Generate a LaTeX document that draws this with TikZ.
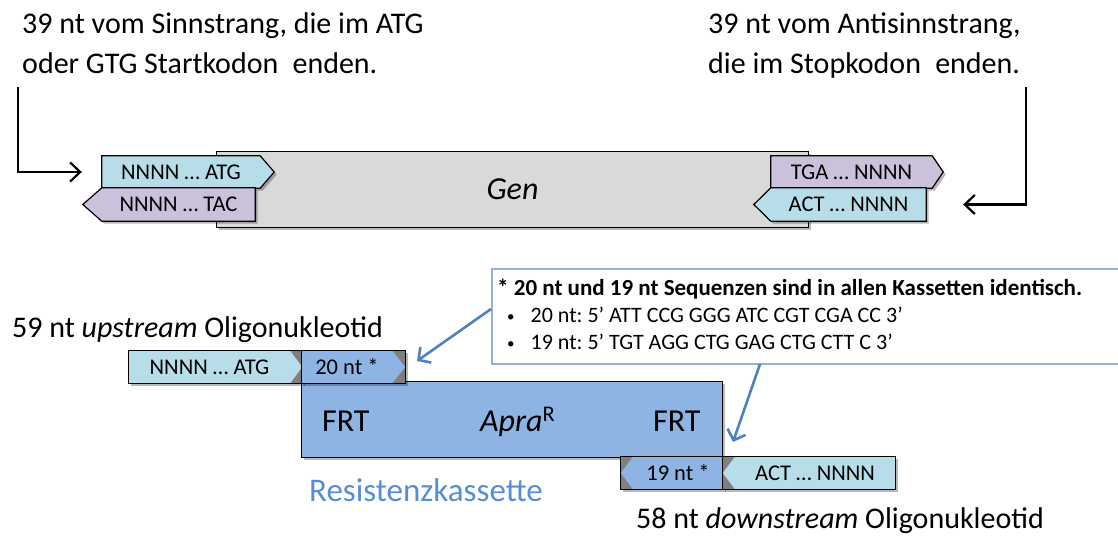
\documentclass[tikz,border=0pt]{standalone}
\usepackage{fontspec}
\setmainfont{Carlito}
\usetikzlibrary{arrows.meta,shadows}
\definecolor{lblue}{HTML}{B7DEE8}
\definecolor{lpurple}{HTML}{CCC1DA}
\definecolor{gengray}{HTML}{D9D9D9}
\definecolor{cblue}{HTML}{8EB4E3}
\definecolor{cgray}{HTML}{7F7F7F}
\definecolor{tblue}{HTML}{558ED5}
\definecolor{ablue}{HTML}{4F81BD}
\definecolor{iborder}{HTML}{95B3D7}
\pgfdeclarelayer{bg}
\pgfsetlayers{bg,main}
\frenchspacing
\newcommand{\pentR}[3]{\path[#3] (#1.north west) -- (#1.north east) -- ([xshift=#2]#1.east) -- (#1.south east) -- (#1.south west) -- cycle;}
\newcommand{\pentL}[3]{\path[#3] (#1.north east) -- (#1.north west) -- ([xshift=-#2]#1.west) -- (#1.south west) -- (#1.south east) -- cycle;}
\newcommand{\smallbullet}{\raisebox{1.5pt}{\fontsize{15}{15}\selectfont •}}
\tikzset{
  shad/.style={drop shadow={shadow xshift=2.5pt,shadow yshift=-2.5pt,opacity=0.28,fill=black}},
  body/.style={inner sep=0pt, minimum height=32pt, font=\fontsize{22.5}{26}\selectfont},
  bigtext/.style={inner sep=0pt, font=\fontsize{30}{36}\selectfont},
  outline/.style={draw=black, line width=1.2pt},
  blackarrow/.style={draw=black, line width=2.2pt, -{Straight Barb[length=10pt,width=19pt]}},
  bluearrow/.style={draw=ablue, line width=2.6pt, -{Straight Barb[length=9pt,width=19pt]}},
}
\begin{document}
\begin{tikzpicture}[x=1pt,y=-1pt]
\clip (0,0) rectangle (1118,536);
% top texts
\node[bigtext, anchor=base west] (tl1) at (22,33) {39 nt vom Sinnstrang, die im ATG};
\node[bigtext, anchor=base west] (tl2) at (22,73) {oder GTG Startkodon\hspace{0.25em} enden.};
\node[bigtext, anchor=base west] (tr1) at (708,33) {39 nt vom Antisinnstrang,};
\node[bigtext, anchor=base west] (tr2) at (708,73) {die im Stopkodon\hspace{0.25em} enden.};
% gene and flanking boxes
\node[inner sep=0pt, minimum width=591pt, minimum height=75pt, font=\fontsize{32}{38}\selectfont\itshape] (gene) at (512.5,189.5) {Gen};
\node[body, minimum width=158pt] (sA) at (181,172) {NNNN … ATG};
\node[body, minimum width=153pt, minimum height=33pt] (sB) at (178.5,204.5) {NNNN … TAC};
\node[body, minimum width=161pt] (aA) at (851.5,172) {TGA … NNNN};
\node[body, minimum width=155pt, minimum height=33pt] (aB) at (848.5,204.5) {ACT … NNNN};
% lower part
\node[inner sep=0pt, minimum width=420pt, minimum height=75pt] (cas) at (512,419.5) {};
\node[body, minimum width=161pt] (uA) at (209.5,367) {NNNN … ATG};
\node[body, minimum width=90pt] (u20) at (347,367) {20 nt *};
\node[body, minimum width=90pt] (d19) at (678,473) {19 nt *};
\node[body, minimum width=160pt] (dA) at (815,473) {ACT … NNNN};
\node[inner sep=0pt, anchor=base west, font=\fontsize{32}{38}\selectfont] (frt1) at (322,431) {FRT};
\node[inner sep=0pt, anchor=base west, font=\fontsize{32}{38}\selectfont] (frt2) at (653,431) {FRT};
\node[inner sep=0pt, anchor=base west, font=\fontsize{32}{38}\selectfont] (apra) at (480,431) {\itshape Apra\textsuperscript{\upshape R}};
\node[bigtext, anchor=base west] (up) at (12,337) {59 nt \textit{upstream} Oligonukleotid};
\node[bigtext, anchor=base west] (down) at (636,528) {58 nt \textit{downstream} Oligonukleotid};
\node[inner sep=0pt, anchor=base west, font=\fontsize{33}{40}\selectfont, text=tblue] (rk) at (309,501) {Resistenzkassette};
% info box
\node[draw=iborder, line width=1.6pt, fill=white, minimum width=650pt, minimum height=95pt, anchor=north west, inner sep=0pt] (info) at (491,268) {};
\node[anchor=north west, align=left, inner sep=0pt, font=\fontsize{22}{27}\selectfont] (infotxt) at (497,279)
  {{\fontsize{23}{27}\selectfont\bfseries * 20 nt und 19 nt Sequenzen sind in allen Kassetten identisch.}\\
   \hspace*{10pt}\smallbullet\hspace*{16pt}20 nt: 5’ ATT CCG GGG ATC CGT CGA CC 3’\\
   \hspace*{10pt}\smallbullet\hspace*{16pt}19 nt: 5’ TGT AGG CTG GAG CTG CTT C 3’};
% shapes behind
\begin{pgfonlayer}{bg}
\path[fill=gengray, outline, shad] (gene.north west) rectangle (gene.south east);
\pentR{sA}{14pt}{fill=lblue, outline, shad}
\pentL{sB}{19pt}{fill=lpurple, outline, shad}
\pentR{aA}{11pt}{fill=lpurple, outline, shad}
\pentL{aB}{17pt}{fill=lblue, outline, shad}
\path[fill=cblue, outline, shad] (cas.north west) rectangle (cas.south east);
% upstream oligo
\path[fill=cgray, shad] (uA.north west) rectangle ([xshift=12pt]uA.south east);
\pentR{uA}{12pt}{fill=lblue}
\path[outline] (uA.north west) rectangle ([xshift=12pt]uA.south east);
\path[fill=cgray, shad] (u20.north west) rectangle ([xshift=13pt]u20.south east);
\pentR{u20}{13pt}{fill=cblue}
\path[outline] (u20.north west) rectangle ([xshift=13pt]u20.south east);
% downstream oligo
\path[fill=cgray, shad] ([xshift=-12pt]d19.north west) rectangle (d19.south east);
\pentL{d19}{12pt}{fill=cblue}
\path[outline] ([xshift=-12pt]d19.north west) rectangle (d19.south east);
\path[fill=cgray, shad] ([xshift=-12pt]dA.north west) rectangle (dA.south east);
\pentL{dA}{12pt}{fill=lblue}
\path[outline] ([xshift=-12pt]dA.north west) rectangle (dA.south east);
\end{pgfonlayer}
% black connectors
\coordinate (s1) at (18,87);
\coordinate (s2) at (1026,87);
\draw[blackarrow] (s1) |- ([xshift=-20pt]sA.west);
\draw[blackarrow] (s2) |- ([xshift=37pt]aB.east);
% blue connectors
\coordinate (i1) at (491,309);
\coordinate (t1) at (417,361);
\coordinate (i2) at (760,364);
\coordinate (t2) at (733,442);
\draw[bluearrow] (i1) -- (t1);
\draw[bluearrow] (i2) -- (t2);
\end{tikzpicture}
\end{document}
